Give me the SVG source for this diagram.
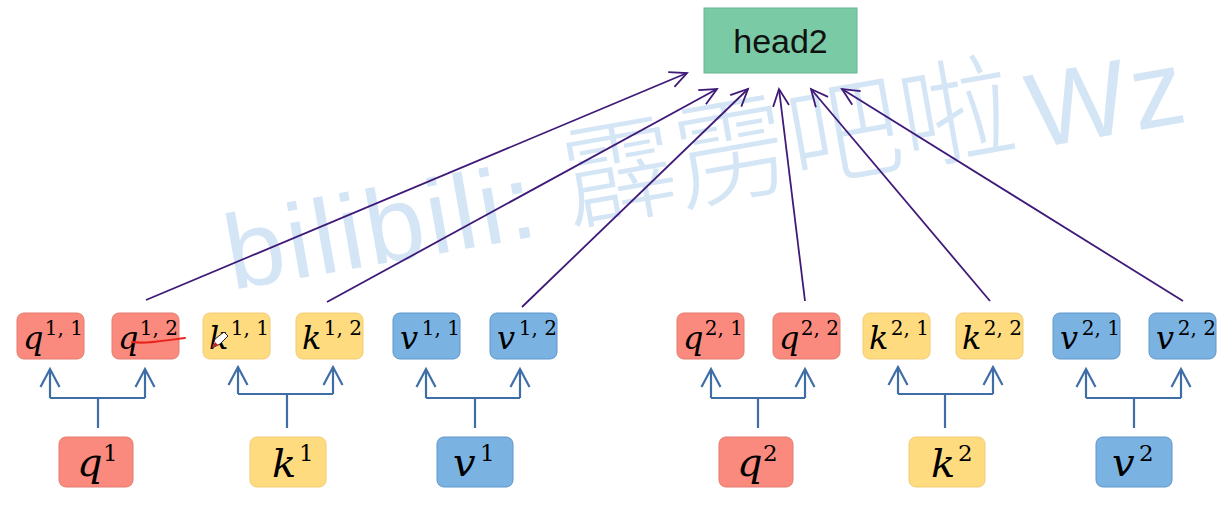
<svg xmlns="http://www.w3.org/2000/svg" width="1224" height="509" viewBox="0 0 1224 509">
<style>
.bg{fill:#ffffff}
.wm{fill:#D4E5F5}
.wl{font-family:"Liberation Sans","Noto Sans CJK SC",sans-serif;font-size:106px}
.wc{font-family:"Noto Sans CJK SC","Liberation Sans",sans-serif;font-size:114px;font-weight:300}
.red{fill:#FA8A7E;stroke:#E57B70;stroke-width:1}
.yel{fill:#FFDB80;stroke:#F2CB72;stroke-width:1}
.blu{fill:#7AB3E2;stroke:#5E96CA;stroke-width:1}
.grn{fill:#7BCAA6;stroke:#68B592;stroke-width:1}
.base{font-family:"DejaVu Serif","Liberation Serif",serif;font-style:italic;font-size:32px;fill:#000}
.sup{font-family:"DejaVu Serif","Liberation Serif",serif;font-size:20px;fill:#000;text-anchor:end}
.bbase{font-family:"DejaVu Serif","Liberation Serif",serif;font-style:italic;font-size:40px;fill:#000}
.bsup{font-family:"DejaVu Serif","Liberation Serif",serif;font-size:23px;fill:#000}
.head{font-family:"Liberation Sans",Arial,sans-serif;font-size:34px;fill:#111;text-anchor:middle}
.pl{fill:none;stroke:#3F1A78;stroke-width:1.8;marker-end:url(#ap)}
.bl{fill:none;stroke:#3F6EA6;stroke-width:2.2}
.ba{fill:none;stroke:#3F6EA6;stroke-width:2.2;marker-end:url(#ab)}
</style>
<defs>
<marker id="ap" markerUnits="userSpaceOnUse" viewBox="-20 -12 24 24" markerWidth="24" markerHeight="24" refX="0" refY="0" orient="auto" overflow="visible">
<path d="M-17,-8 L0,0 L-17,8" fill="none" stroke="#3F1A78" stroke-width="1.8"/>
</marker>
<marker id="ab" markerUnits="userSpaceOnUse" viewBox="-20 -12 24 24" markerWidth="24" markerHeight="24" refX="0" refY="0" orient="auto" overflow="visible">
<path d="M-18,-9.5 L0,0 L-18,9.5" fill="none" stroke="#3F6EA6" stroke-width="2.2"/>
</marker>
</defs>
<rect class="bg" x="0" y="0" width="1224" height="509"/>
<g id="watermark" class="wm" transform="translate(232,290) rotate(-10)">
<text class="wl" x="0" y="0" letter-spacing="3">bilibili:</text>
<text class="wc" x="345" y="-8">霹雳吧啦</text>
<text class="wl" x="815" y="0" letter-spacing="4">Wz</text>
</g>
<g id="head2"><rect class="grn" x="704" y="8" width="153" height="65"/><text class="head" x="780.5" y="53">head2</text></g>
<g id="q11"><rect class="red" x="17" y="313" width="67" height="46" rx="7"/><text class="base" x="23" y="349">q</text><text class="sup" x="83" y="335">1, 1</text></g>
<g id="q12"><rect class="red" x="112" y="313" width="67" height="46" rx="7"/><text class="base" x="118" y="349">q</text><text class="sup" x="178" y="335">1, 2</text></g>
<g id="k11"><rect class="yel" x="203" y="313" width="67" height="46" rx="7"/><text class="base" x="209" y="349">k</text><text class="sup" x="269" y="335">1, 1</text></g>
<g id="k12"><rect class="yel" x="296" y="313" width="67" height="46" rx="7"/><text class="base" x="302" y="349">k</text><text class="sup" x="362" y="335">1, 2</text></g>
<g id="v11"><rect class="blu" x="393" y="313" width="67" height="46" rx="7"/><text class="base" x="400" y="349">v</text><text class="sup" x="460" y="335">1, 1</text></g>
<g id="v12"><rect class="blu" x="490" y="313" width="67" height="46" rx="7"/><text class="base" x="497" y="349">v</text><text class="sup" x="557" y="335">1, 2</text></g>
<g id="q21"><rect class="red" x="677" y="313" width="67" height="46" rx="7"/><text class="base" x="683" y="349">q</text><text class="sup" x="743" y="335">2, 1</text></g>
<g id="q22"><rect class="red" x="773" y="313" width="67" height="46" rx="7"/><text class="base" x="779" y="349">q</text><text class="sup" x="839" y="335">2, 2</text></g>
<g id="k21"><rect class="yel" x="863" y="313" width="67" height="46" rx="7"/><text class="base" x="869" y="349">k</text><text class="sup" x="929" y="335">2, 1</text></g>
<g id="k22"><rect class="yel" x="956" y="313" width="67" height="46" rx="7"/><text class="base" x="962" y="349">k</text><text class="sup" x="1022" y="335">2, 2</text></g>
<g id="v21"><rect class="blu" x="1053" y="313" width="67" height="46" rx="7"/><text class="base" x="1060" y="349">v</text><text class="sup" x="1120" y="335">2, 1</text></g>
<g id="v22"><rect class="blu" x="1149" y="313" width="67" height="46" rx="7"/><text class="base" x="1156" y="349">v</text><text class="sup" x="1216" y="335">2, 2</text></g>
<g id="q1"><rect class="red" x="59" y="437" width="74" height="50" rx="7"/><text class="bbase" x="77" y="476">q</text><text class="bsup" x="103" y="461">1</text></g>
<g id="k1"><rect class="yel" x="250" y="437" width="76" height="50" rx="7"/><text class="bbase" x="272" y="477">k</text><text class="bsup" x="299" y="461">1</text></g>
<g id="v1"><rect class="blu" x="437" y="437" width="76" height="50" rx="7"/><text class="bbase" x="453" y="476">v</text><text class="bsup" x="480" y="461">1</text></g>
<g id="q2"><rect class="red" x="719" y="437" width="74" height="50" rx="7"/><text class="bbase" x="737" y="476">q</text><text class="bsup" x="763" y="461">2</text></g>
<g id="k2"><rect class="yel" x="909" y="437" width="76" height="50" rx="7"/><text class="bbase" x="931" y="477">k</text><text class="bsup" x="958" y="461">2</text></g>
<g id="v2"><rect class="blu" x="1096" y="437" width="76" height="50" rx="7"/><text class="bbase" x="1112" y="476">v</text><text class="bsup" x="1139" y="461">2</text></g>
<g id="connectors">
<path class="pl" d="M146,300 L687,73"/>
<path class="pl" d="M327,302 L717,89"/>
<path class="pl" d="M522,307 L748,89"/>
<path class="pl" d="M805,301 L779,89"/>
<path class="pl" d="M990,301 L811,89"/>
<path class="pl" d="M1183,301 L842,89"/>
<path class="bl" d="M98,428 V398 M50,398 H145"/>
<path class="ba" d="M50,398 V369"/><path class="ba" d="M145,398 V369"/>
<path class="bl" d="M287,428 V394 M238,394 H333"/>
<path class="ba" d="M238,394 V367"/><path class="ba" d="M333,394 V367"/>
<path class="bl" d="M475,428 V398 M426,398 H520"/>
<path class="ba" d="M426,398 V369"/><path class="ba" d="M520,398 V369"/>
<path class="bl" d="M758,428 V398 M711,398 H805"/>
<path class="ba" d="M711,398 V369"/><path class="ba" d="M805,398 V369"/>
<path class="bl" d="M945,428 V394 M898,394 H993"/>
<path class="ba" d="M898,394 V367"/><path class="ba" d="M993,394 V367"/>
<path class="bl" d="M1134,428 V398 M1086,398 H1181"/>
<path class="ba" d="M1086,398 V369"/><path class="ba" d="M1181,398 V369"/>
</g>
<g id="annotations">
<path d="M132,342 C145,344 162,341 185,338" fill="none" stroke="#E8231B" stroke-width="2" stroke-linecap="round"/>
<path d="M212,348 L215,339 L224,332 L228,336 L220,344 Z" fill="#ffffff" stroke="#222" stroke-width="1"/>
<path d="M212,348 L215,342 L218,345 Z" fill="#D02020"/>
</g>
</svg>
